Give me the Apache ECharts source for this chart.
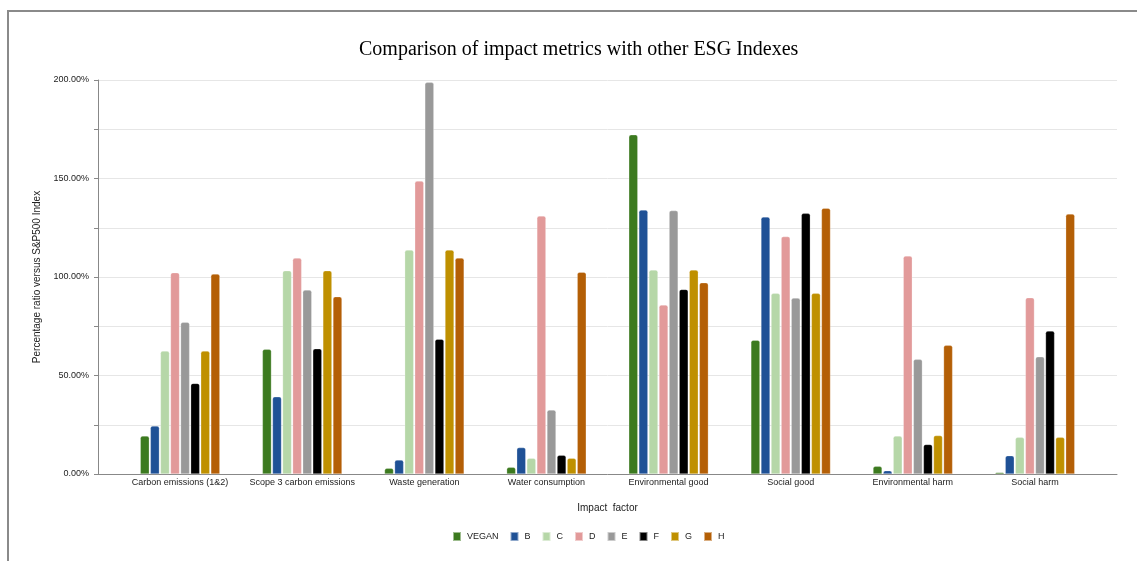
<!DOCTYPE html>
<html>
<head>
<meta charset="utf-8">
<script src="https://cdn.jsdelivr.net/npm/echarts@6/dist/echarts.min.js"></script>
<style>
  html, body { margin: 0; padding: 0; background: #fff; }
  #frame { position: absolute; left: 7px; top: 10px; width: 1130px; height: 551px;
           border-top: 2px solid #8a8a8a; border-left: 2px solid #8a8a8a; box-sizing: border-box; }
  #chart { position: absolute; left: 0; top: 0; width: 1137px; height: 561px; }
</style>
</head>
<body>
<div id="frame"></div>
<div id="chart"></div>
<script>
var categories = ['Carbon emissions (1&2)', 'Scope 3 carbon emissions', 'Waste generation', 'Water consumption',
                  'Environmental good', 'Social good', 'Environmental harm', 'Social harm'];
var seriesNames = ['VEGAN', 'B', 'C', 'D', 'E', 'F', 'G', 'H'];
var colors = ['#3c7a1f', '#1f5196', '#b6d7a8', '#e29a9a', '#999999', '#000000', '#bf9000', '#b45f06'];

// values in percent, per series, one per category
var vegan = [19.3, 63.3, 2.9, 3.4, 172.2, 67.9, 3.9, 0.8];
var b     = [24.4, 39.2, 7.1, 13.4, 134.0, 130.5, 1.7, 9.3];
var c     = [62.4, 103.2, 113.7, 8.0, 103.6, 91.7, 19.3, 18.6];
var d     = [102.2, 109.6, 148.7, 131.0, 85.8, 120.5, 110.7, 89.5];
var e     = [77.0, 93.4, 198.8, 32.5, 133.7, 89.3, 58.2, 59.5];
var f     = [46.0, 63.6, 68.4, 9.5, 93.7, 132.3, 15.0, 72.6];
var g     = [62.4, 103.2, 113.7, 8.0, 103.6, 91.7, 19.5, 18.6];
var h     = [101.5, 90.0, 109.6, 102.4, 97.1, 134.9, 65.3, 132.0];
var values = [vegan, b, c, d, e, f, g, h];

var chart = echarts.init(document.getElementById('chart'));

var series = seriesNames.map(function (name, i) {
  return {
    name: name,
    type: 'bar',
    xAxisIndex: 1,
    yAxisIndex: 1,
    data: values[i],
    barWidth: 9,
    barGap: '12%',
    itemStyle: { color: colors[i], borderRadius: [2, 2, 0, 0], borderColor: 'rgba(255,255,255,0.5)', borderWidth: 0.5 }
  };
});

chart.setOption({
  animation: false,
  textStyle: { fontFamily: 'Liberation Sans, Arial, sans-serif' },
  title: {
    text: 'Comparison of impact metrics with other ESG Indexes',
    left: 354,
    top: 35,
    textStyle: { fontFamily: 'Liberation Serif, Times New Roman, serif', fontSize: 20, fontWeight: 'normal', color: '#000' }
  },
  legend: {
    data: seriesNames,
    left: 447,
    top: 526,
    icon: 'rect',
    itemWidth: 8,
    itemHeight: 9,
    itemGap: 11,
    textStyle: { fontSize: 9, color: '#222', padding: [0, 0, 0, 1] }
  },
  grid: [
    { left: 98, right: 20, top: 80, bottom: 87 },
    { left: 119, right: 41, top: 80, bottom: 87 }
  ],
  xAxis: [
    {
      gridIndex: 0, type: 'value', min: 0, max: 1,
      axisLine: { show: true, lineStyle: { color: '#888', width: 1 } },
      axisTick: { show: false }, axisLabel: { show: false }, splitLine: { show: false }
    },
    {
      gridIndex: 1, type: 'category', data: categories,
      axisLine: { show: false }, axisTick: { show: false },
      axisLabel: { fontSize: 9, color: '#222', margin: 4, interval: 0 },
      name: 'Impact  factor', nameLocation: 'middle', nameGap: 29,
      nameTextStyle: { fontSize: 10, color: '#222' }
    }
  ],
  yAxis: [
    {
      gridIndex: 0, type: 'value', min: 0, max: 200, interval: 25,
      axisLine: { show: true, lineStyle: { color: '#888', width: 1 } },
      axisTick: { show: true, length: 4, lineStyle: { color: '#888' } },
      splitLine: { lineStyle: { color: '#e6e6e6' } },
      axisLabel: {
        fontSize: 9, color: '#222', margin: 9,
        formatter: function (v) { return v % 50 === 0 ? v.toFixed(2) + '%' : ''; }
      },
      name: 'Percentage ratio versus S&P500 Index', nameLocation: 'middle', nameGap: 49,
      nameTextStyle: { fontSize: 10, color: '#222' }
    },
    { gridIndex: 1, type: 'value', min: 0, max: 200, show: false }
  ],
  series: series
});
</script>
</body>
</html>
